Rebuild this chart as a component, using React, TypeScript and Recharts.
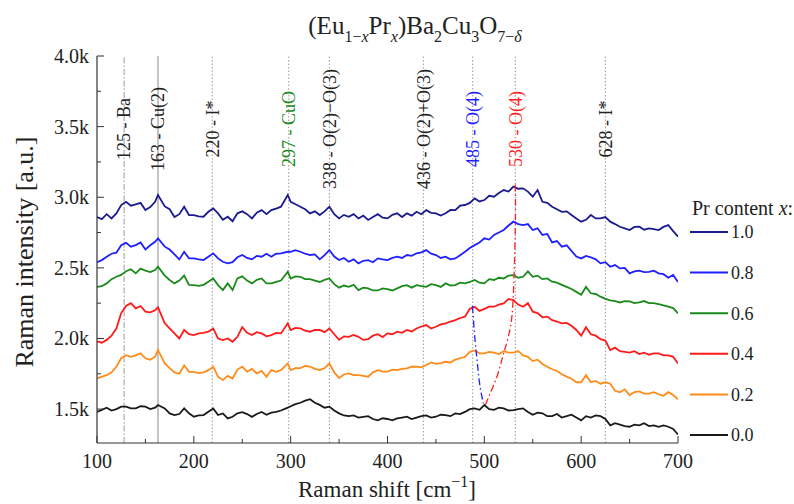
import React from 'react';
import { LineChart, Line, XAxis, YAxis, ReferenceLine } from 'recharts';

// Raman shift grid [cm^-1]
const shifts = [
  100, 105, 110, 115, 120, 125, 130, 135, 140, 145,
  150, 155, 160, 163, 170, 175, 180, 185, 190, 195,
  200, 205, 210, 215, 220, 225, 230, 235, 240, 245,
  250, 255, 260, 265, 270, 275, 280, 285, 290, 297,
  300, 305, 310, 315, 320, 325, 330, 335, 340, 345,
  350, 355, 360, 365, 370, 375, 380, 385, 390, 395,
  400, 405, 410, 415, 420, 425, 430, 435, 440, 445,
  450, 455, 460, 465, 470, 475, 480, 485, 490, 495,
  500, 505, 510, 515, 520, 525, 530, 535, 540, 545,
  550, 555, 560, 565, 570, 575, 580, 585, 590, 595,
  600, 605, 610, 615, 620, 625, 630, 635, 640, 645,
  650, 655, 660, 665, 670, 675, 680, 685, 690, 695,
  700,
];

const pr10 = [
  2860, 2845, 2880, 2850, 2886, 2945, 2968, 2940, 2950, 2960,
  2909, 2930, 2968, 3016, 2935, 2915, 2860, 2880, 2933, 2874,
  2874, 2865, 2862, 2897, 2921, 2886, 2840, 2862, 2830, 2886,
  2900, 2880, 2850, 2890, 2909, 2880, 2909, 2920, 2933, 3016,
  2968, 2950, 2933, 2915, 2886, 2900, 2874, 2900, 2933, 2880,
  2850, 2875, 2862, 2880, 2850, 2870, 2839, 2860, 2880, 2855,
  2850, 2875, 2886, 2860, 2886, 2870, 2897, 2880, 2909, 2890,
  2886, 2870, 2886, 2910, 2909, 2940, 2945, 2960, 2992, 2970,
  2980, 3010, 3004, 3030, 3051, 3040, 3075, 3060, 3063, 3040,
  3004, 3051, 2968, 2960, 2933, 2915, 2897, 2900, 2874, 2850,
  2827, 2840, 2874, 2850, 2850, 2860, 2827, 2810, 2791, 2780,
  2768, 2790, 2791, 2770, 2780, 2775, 2768, 2790, 2803, 2760,
  2721,
];

const pr08 = [
  2540, 2555, 2579, 2600, 2607, 2660, 2678, 2650, 2661, 2680,
  2630, 2660, 2685, 2709, 2650, 2630, 2595, 2560, 2614, 2567,
  2567, 2560, 2555, 2579, 2603, 2567, 2543, 2532, 2540, 2575,
  2591, 2570, 2560, 2585, 2579, 2600, 2579, 2600, 2603, 2614,
  2614, 2625, 2614, 2600, 2591, 2595, 2560, 2590, 2626, 2580,
  2555, 2570, 2543, 2560, 2532, 2550, 2555, 2540, 2567, 2560,
  2555, 2570, 2579, 2570, 2591, 2585, 2603, 2610, 2626, 2600,
  2591, 2570, 2579, 2560, 2567, 2590, 2614, 2640, 2661, 2680,
  2709, 2700, 2733, 2750, 2768, 2800, 2827, 2810, 2803, 2810,
  2768, 2780, 2733, 2740, 2680, 2690, 2650, 2660, 2620, 2580,
  2567, 2585, 2575, 2560, 2532, 2540, 2508, 2520, 2496, 2500,
  2461, 2475, 2480, 2470, 2472, 2480, 2461, 2455, 2430, 2450,
  2400,
];

const pr06 = [
  2366, 2370, 2390, 2420, 2437, 2450, 2476, 2490, 2461, 2495,
  2480, 2470, 2484, 2508, 2445, 2414, 2390, 2410, 2445, 2380,
  2378, 2372, 2380, 2402, 2425, 2378, 2343, 2390, 2343, 2425,
  2440, 2410, 2390, 2415, 2425, 2390, 2390, 2400, 2410, 2472,
  2425, 2440, 2437, 2420, 2420, 2410, 2400, 2415, 2425, 2385,
  2360, 2375, 2366, 2380, 2343, 2360, 2355, 2340, 2340, 2355,
  2350, 2340, 2355, 2370, 2378, 2360, 2378, 2370, 2366, 2385,
  2378, 2365, 2390, 2375, 2378, 2395, 2390, 2400, 2414, 2395,
  2390, 2420, 2414, 2430, 2425, 2445, 2449, 2430, 2437, 2475,
  2437, 2445, 2420, 2425, 2402, 2395, 2380, 2365, 2350, 2330,
  2310, 2365, 2320, 2315, 2296, 2280, 2270, 2265, 2255, 2265,
  2262, 2250, 2255, 2265, 2250, 2250, 2243, 2235, 2225, 2215,
  2178,
];

const pr04 = [
  1980, 1970, 1990, 2020, 2070, 2180, 2230, 2250, 2213, 2230,
  2190, 2185, 2200, 2220, 2107, 2071, 2036, 2000, 2060, 2030,
  2024, 2036, 2040, 2048, 2071, 2000, 1989, 2000, 1977, 2012,
  2080, 2040, 2024, 2045, 2036, 2015, 2024, 2040, 2036, 2107,
  2060, 2075, 2071, 2055, 2048, 2060, 2060, 2045, 2071, 2030,
  1990, 2015, 2012, 2025, 2012, 1990, 1995, 2020, 2030, 2010,
  2036, 2030, 2048, 2040, 2060, 2050, 2071, 2085, 2095, 2070,
  2083, 2100, 2107, 2120, 2130, 2145, 2154, 2210, 2225, 2195,
  2210, 2225, 2225, 2240, 2248, 2280, 2272, 2240, 2225, 2250,
  2190, 2180, 2150, 2155, 2130, 2120, 2107, 2110, 2090, 2060,
  2020, 2080, 2030, 2020, 1995, 1985, 1918, 1935, 1910, 1905,
  1900, 1910, 1890, 1900, 1885, 1895, 1894, 1880, 1880, 1870,
  1823,
];

const pr02 = [
  1717, 1730, 1740, 1760, 1800, 1860, 1882, 1870, 1880, 1895,
  1860, 1850, 1871, 1918, 1823, 1790, 1760, 1750, 1810, 1764,
  1764, 1755, 1760, 1776, 1800, 1729, 1705, 1735, 1717, 1780,
  1800, 1765, 1785, 1753, 1770, 1729, 1776, 1764, 1776, 1823,
  1776, 1790, 1790, 1805, 1800, 1785, 1776, 1790, 1823, 1760,
  1720, 1745, 1753, 1740, 1740, 1735, 1729, 1760, 1776, 1765,
  1765, 1780, 1776, 1785, 1788, 1800, 1800, 1795, 1812, 1830,
  1820, 1825, 1835, 1830, 1850, 1860, 1870, 1905, 1915, 1895,
  1894, 1905, 1900, 1890, 1910, 1900, 1900, 1910, 1880, 1870,
  1840, 1850, 1820, 1800, 1782, 1770, 1747, 1730, 1715, 1690,
  1690, 1740, 1690, 1700, 1680, 1690, 1680, 1630, 1620, 1640,
  1600, 1620, 1625, 1610, 1610, 1620, 1605, 1595, 1620, 1600,
  1570,
];

const pr00 = [
  1480, 1495, 1510, 1490, 1500, 1517, 1517, 1505, 1505, 1520,
  1517, 1500, 1510, 1529, 1505, 1469, 1458, 1465, 1505, 1470,
  1446, 1455, 1458, 1482, 1505, 1458, 1469, 1434, 1446, 1470,
  1478, 1465, 1445, 1465, 1480, 1460, 1475, 1480, 1490, 1510,
  1520, 1535, 1545, 1560, 1570, 1545, 1530, 1510, 1517, 1490,
  1470, 1455, 1450, 1455, 1440, 1445, 1450, 1430, 1420, 1435,
  1430, 1420, 1434, 1440, 1446, 1430, 1440, 1450, 1455, 1440,
  1446, 1460, 1458, 1450, 1469, 1465, 1480, 1500, 1505, 1495,
  1529, 1500, 1495, 1510, 1505, 1490, 1493, 1500, 1505, 1480,
  1460, 1475, 1470, 1450, 1450, 1465, 1440, 1450, 1460, 1440,
  1420, 1450, 1440, 1455, 1450, 1430, 1385, 1400, 1390, 1380,
  1375, 1390, 1385, 1400, 1380, 1385, 1375, 1385, 1375, 1360,
  1320,
];

// Guide curves tracing the O(4) mode position
const guideRedX = [532, 532, 530, 527, 522, 518, 513, 506, 501];
const guideRedY = [3090, 2791, 2319, 2083, 1942, 1847, 1729, 1611, 1529];
const guideBlueX = [487.7, 490.4, 493.2, 495.6, 499];
const guideBlueY = [2230, 1989, 1800, 1658, 1540];

// Peak markers
const peakPositions = [128, 163, 219, 298, 340, 437, 488, 532, 625];
const peakLabels = ['125 - Ba', '163 - Cu(2)', '220 - I*', '297 - CuO', '338 - O(2)\u2212O(3)', '436 - O(2)+O(3)', '485 - O(4)', '530 - O(4)', '628 - I*'];
const peakLabelColors = ['#222', '#222', '#222', '#1a8a1a', '#222', '#222', '#1f1fff', '#ff1f1f', '#222'];
const peakLineDash = ['6 2 1.5 2', '', '1.5 2', '1.5 2', '1.5 2', '1.5 2', '1.5 2', '1.5 2', '1.5 2'];

const xTicks = [100, 150, 200, 250, 300, 350, 400, 450, 500, 550, 600, 650, 700];
const yTicks = [1500, 1750, 2000, 2250, 2500, 2750, 3000, 3250, 3500, 3750, 4000];

const seriesList = [
  { key: 'pr10', name: '1.0', color: '#1b1b8f', values: pr10 },
  { key: 'pr08', name: '0.8', color: '#1f1fff', values: pr08 },
  { key: 'pr06', name: '0.6', color: '#1a8a1a', values: pr06 },
  { key: 'pr04', name: '0.4', color: '#ff1a1a', values: pr04 },
  { key: 'pr02', name: '0.2', color: '#ff8c1a', values: pr02 },
  { key: 'pr00', name: '0.0', color: '#1a1a1a', values: pr00 },
];

const data = shifts.map((x, i) => {
  const row: Record<string, number> = { x };
  seriesList.forEach((s) => { row[s.key] = s.values[i]; });
  return row;
});
const guideRed = guideRedX.map((x, i) => ({ x, y: guideRedY[i] }));
const guideBlue = guideBlueX.map((x, i) => ({ x, y: guideBlueY[i] }));

const FONT = 'Liberation Serif, serif';
const TXT = '#222';
const AX = '#333';

const BottomTick = (props: any) => {
  const { x, y, payload } = props;
  const v = payload.value;
  const major = v % 100 === 0;
  return (
    <g>
      <line x1={x} x2={x} y1={y} y2={y - (major ? 7 : 4)} stroke={AX} strokeWidth={1} />
      {major && (
        <text x={x} y={y + 25} textAnchor="middle" fontSize={20} fontFamily={FONT} fill={TXT}>{v}</text>
      )}
    </g>
  );
};
const TopTick = (props: any) => {
  const { x, y, payload } = props;
  const major = payload.value % 100 === 0;
  return <line x1={x} x2={x} y1={y} y2={y + (major ? 7 : 4)} stroke={AX} strokeWidth={1} />;
};
const LeftTick = (props: any) => {
  const { x, y, payload } = props;
  const v = payload.value;
  const major = v % 500 === 0;
  return (
    <g>
      <line x1={x} x2={x + (major ? 7 : 4)} y1={y} y2={y} stroke={AX} strokeWidth={1} />
      {major && (
        <text x={x - 8} y={y} dy="0.35em" textAnchor="end" fontSize={20} fontFamily={FONT} fill={TXT}>
          {(v / 1000).toFixed(1) + 'k'}
        </text>
      )}
    </g>
  );
};
const RightTick = (props: any) => {
  const { x, y, payload } = props;
  const major = payload.value % 500 === 0;
  return <line x1={x} x2={x - (major ? 7 : 4)} y1={y} y2={y} stroke={AX} strokeWidth={1} />;
};

const makePeakLabel = (text: string, color: string) => (props: any) => {
  const vb = props.viewBox || {};
  const cx = vb.x;
  const cy = 129;
  return (
    <text
      x={cx}
      y={cy}
      dy="0.35em"
      transform={`rotate(-90 ${cx} ${cy})`}
      textAnchor="middle"
      fontSize={18}
      fontFamily={FONT}
      fill={color}
    >
      {text}
    </text>
  );
};

export default function App() {
  return (
    <div style={{ position: 'absolute', left: 0, top: 0, width: 794, height: 504, background: '#fff' }}>
      <LineChart width={794} height={504} data={data} margin={{ top: 56, right: 116, bottom: 0, left: 0 }}>
        <XAxis
          dataKey="x"
          type="number"
          domain={[100, 700]}
          ticks={xTicks}
          allowDataOverflow
          height={61}
          tickSize={0}
          tickMargin={0}
          tickLine={false}
          axisLine={{ stroke: AX, strokeWidth: 1.2 }}
          tick={BottomTick}
          interval={0}
        />
        <XAxis
          xAxisId="top"
          orientation="top"
          dataKey="x"
          type="number"
          domain={[100, 700]}
          ticks={xTicks}
          allowDataOverflow
          height={0}
          tickSize={0}
          tickMargin={0}
          tickLine={false}
          axisLine={{ stroke: AX, strokeWidth: 1.2 }}
          tick={TopTick}
          interval={0}
        />
        <YAxis
          type="number"
          domain={[1260, 4000]}
          ticks={yTicks}
          allowDataOverflow
          width={97}
          tickSize={0}
          tickMargin={0}
          tickLine={false}
          axisLine={{ stroke: AX, strokeWidth: 1.2 }}
          tick={LeftTick}
          interval={0}
        />
        <YAxis
          yAxisId="right"
          orientation="right"
          type="number"
          domain={[1260, 4000]}
          ticks={yTicks}
          allowDataOverflow
          width={0}
          tickSize={0}
          tickMargin={0}
          tickLine={false}
          axisLine={{ stroke: AX, strokeWidth: 1.2 }}
          tick={RightTick}
          interval={0}
        />
        {peakPositions.map((p, i) => (
          <ReferenceLine
            key={'pk' + i}
            x={p}
            stroke={i === 1 ? '#8a8a8a' : '#9a9a9a'}
            strokeWidth={1}
            strokeDasharray={peakLineDash[i] || undefined}
            label={makePeakLabel(peakLabels[i], peakLabelColors[i])}
          />
        ))}
        {seriesList.map((s) => (
          <Line
            key={s.key}
            dataKey={s.key}
            name={s.name}
            stroke={s.color}
            strokeWidth={1.8}
            dot={false}
            type="linear"
            isAnimationActive={false}
          />
        ))}
        <Line
          data={guideRed}
          dataKey="y"
          stroke="#ff2020"
          strokeWidth={1.3}
          strokeDasharray="7 3 1.5 3"
          dot={false}
          type="natural"
          legendType="none"
          isAnimationActive={false}
        />
        <Line
          data={guideBlue}
          dataKey="y"
          stroke="#2020ff"
          strokeWidth={1.3}
          strokeDasharray="7 3 1.5 3"
          dot={false}
          type="natural"
          legendType="none"
          isAnimationActive={false}
        />
      </LineChart>
      <svg
        width={794}
        height={504}
        style={{ position: 'absolute', left: 0, top: 0, pointerEvents: 'none' }}
        fontFamily={FONT}
      >
        <text x={415} y={34} textAnchor="middle" fontSize={25} fill={TXT}>
          (Eu
          <tspan dy={8} fontSize={16}>1{'\u2212'}</tspan>
          <tspan fontSize={16} fontStyle="italic">x</tspan>
          <tspan dy={-8}>Pr</tspan>
          <tspan dy={8} fontSize={16} fontStyle="italic">x</tspan>
          <tspan dy={-8}>)Ba</tspan>
          <tspan dy={8} fontSize={16}>2</tspan>
          <tspan dy={-8}>Cu</tspan>
          <tspan dy={8} fontSize={16}>3</tspan>
          <tspan dy={-8}>O</tspan>
          <tspan dy={8} fontSize={16}>7{'\u2212'}</tspan>
          <tspan fontSize={16} fontStyle="italic">{'\u03b4'}</tspan>
        </text>
        <text
          x={24}
          y={252}
          dy="0.35em"
          transform="rotate(-90 24 252)"
          textAnchor="middle"
          fontSize={26}
          fill={TXT}
        >
          Raman intensity [a.u.]
        </text>
        <text x={387} y={497} textAnchor="middle" fontSize={23} fill={TXT}>
          Raman shift [cm
          <tspan dy={-10} fontSize={16}>{'\u2212'}1</tspan>
          <tspan dy={10}>]</tspan>
        </text>
        <text x={692} y={215} fontSize={20} fill={TXT}>
          Pr content <tspan fontStyle="italic">x</tspan>:
        </text>
        {seriesList.map((s, i) => (
          <g key={'lg' + s.key}>
            <line x1={690} x2={728} y1={232 + i * 40.6} y2={232 + i * 40.6} stroke={s.color} strokeWidth={2} />
            <text x={731} y={232 + i * 40.6} dy="0.35em" fontSize={18} fill={TXT}>{s.name}</text>
          </g>
        ))}
      </svg>
    </div>
  );
}
